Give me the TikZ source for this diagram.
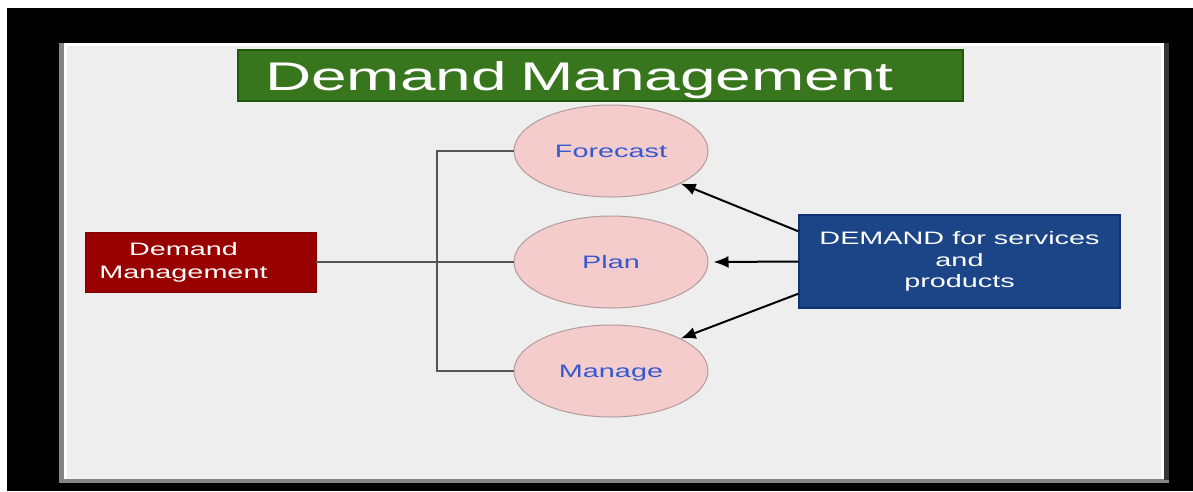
\documentclass[tikz,border=0pt]{standalone}
\usepackage{fontspec}
\setmainfont{Liberation Sans}
\newfontfamily\widefont[FakeStretch=1.6]{Liberation Sans}
\usetikzlibrary{arrows.meta,shapes.geometric}
\definecolor{panelgray}{HTML}{EEEEEE}
\definecolor{edgegray}{HTML}{858585}
\definecolor{edgedark}{HTML}{353535}
\definecolor{titlegreen}{HTML}{38761D}
\definecolor{titleedge}{HTML}{1E5A0C}
\definecolor{boxred}{HTML}{990000}
\definecolor{rededge}{HTML}{7A0000}
\definecolor{boxblue}{HTML}{1C4587}
\definecolor{blueedge}{HTML}{0E3275}
\definecolor{ovalpink}{HTML}{F4CCCC}
\definecolor{ovaledge}{HTML}{B39C9C}
\definecolor{ovaltext}{HTML}{3358D0}
\definecolor{linkgray}{HTML}{555555}

\begin{document}
\begin{tikzpicture}[x=1pt,y=-1pt,
  titlebox/.style={draw=titleedge,line width=2pt,fill=titlegreen,text=white,
    minimum height=51pt,inner ysep=0pt,inner xsep=27pt,text width=671pt,align=left,
    text height=29pt,text depth=0pt,font=\widefont\fontsize{40}{44}\selectfont},
  redbox/.style={draw=rededge,fill=boxred,text=white,minimum width=231pt,minimum height=60pt,
    inner sep=0pt,font=\widefont\fontsize{18}{23}\selectfont},
  bluebox/.style={draw=blueedge,line width=1.5pt,fill=boxblue,text=white,minimum width=321pt,
    minimum height=93pt,align=center,inner sep=0pt,font=\widefont\fontsize{18}{21.5}\selectfont},
  oval/.style={ellipse,draw=ovaledge,line width=1pt,fill=ovalpink,text=ovaltext,
    minimum width=194pt,minimum height=92pt,inner sep=0pt,text height=13pt,text depth=0pt,
    font=\widefont\fontsize{18}{22}\selectfont},
  branch/.style={draw=linkgray,line width=2.5pt},
  feed/.style={draw=black,line width=2pt,-{Latex[length=15pt,width=12pt]}}]
\useasboundingbox (0,0) rectangle (1193,491);
\fill (7,8) rectangle (1193,491);
\fill[edgegray] (59,43) rectangle (1169,483);
\fill[white] (64,43) rectangle (1164,479);
\fill[panelgray] (67,46) rectangle (1161,479);
\fill[edgedark] (1164,43) rectangle (1169,480);

\node[titlebox] (title) at (600.5,75.5) {Demand Management};
\node[redbox] (dm) at (200.5,262) {\hspace*{-34pt}\begin{tabular}{@{}c@{}}Demand\\Management\end{tabular}};
\node[oval] (fc) at (611,151) {Forecast};
\node[oval] (pl) at (611,262) {Plan};
\node[oval] (ma) at (611,371) {Manage};
\node[bluebox] (dem) at (959.5,261.5) {DEMAND for services\\and\\products};

\coordinate (bk) at (437,262);
\draw[branch] (dm.east) -- (pl.west);
\draw[branch] (fc.west) -- (fc.west -| bk) -- (ma.west -| bk) -- (ma.west);

\draw[feed] ([yshift=-17pt]dem.north west) -- (fc.-25);
\draw[feed] (dem.west) -- ([xshift=5pt]pl.east);
\draw[feed] ([yshift=15pt]dem.south west) -- (ma.25);
\end{tikzpicture}
\end{document}
